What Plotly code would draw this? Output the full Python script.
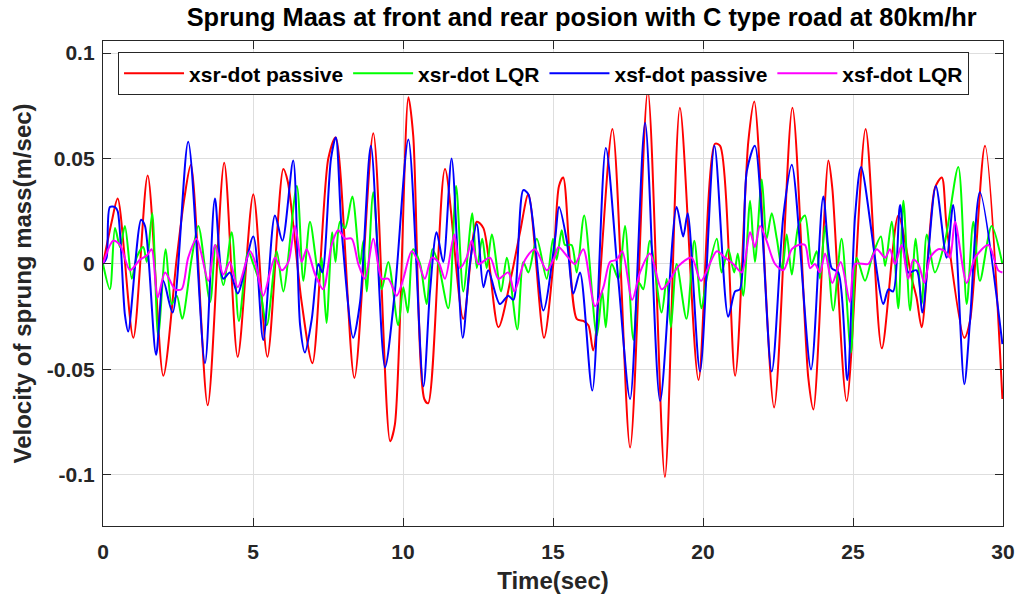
import plotly.graph_objects as go

# ---------------- data ----------------
t_red = [0, 0.29, 0.49, 1.01, 1.49, 2.01, 2.46, 2.71, 2.93, 3.49, 4.04, 4.49, 5.01, 5.48, 6.01, 6.16,
         6.62, 6.98, 7.51, 7.76, 8.38, 9.01, 9.57, 9.73, 10.18, 10.34, 10.71, 10.84, 11.40, 12.01, 12.46,
         12.68, 13.18, 13.62, 13.90, 14.18, 14.70, 15.01, 15.20, 15.34, 15.79, 16.01, 16.18, 16.34, 16.98,
         17.57, 18.16, 18.73, 19.23, 19.85, 20.40, 20.57, 21.07, 21.51, 21.71, 22.37, 22.98, 23.51, 23.68,
         24.18, 24.31, 24.79, 25.42, 25.96, 26.51, 26.96, 27.12, 27.29, 27.73, 27.96, 28.12, 28.71, 28.90,
         29.40, 29.98]
v_red = [0, 0.020, 0.031, -0.035, 0.042, -0.053, 0.003, 0.031, 0.047, -0.067, 0.048, -0.044, 0.033, -0.044,
         0.045, 0.039, -0.018, -0.047, 0.050, 0.060, -0.054, 0.062, -0.084, -0.076, 0.079, 0.061, -0.064,
         -0.066, 0.045, -0.026, 0.020, 0.017, -0.030, -0.005, 0.015, 0.033, -0.035, 0.000, 0.037, 0.041,
         -0.026, -0.027, -0.029, -0.041, 0.064, -0.087, 0.082, -0.101, 0.074, -0.055, 0.057, 0.056, -0.053,
         0.058, 0.077, -0.068, 0.074, -0.054, -0.069, 0.049, 0.036, -0.065, 0.064, -0.040, 0.023, -0.007,
         -0.016, -0.030, 0.036, 0.041, 0.018, -0.035, -0.027, 0.056, -0.064]

t_green = [0, 0.23, 0.40, 0.57, 0.73, 0.96, 1.12, 1.34, 1.46, 1.64, 1.84, 2.09, 2.29, 2.46, 2.64, 2.96,
           3.18, 3.57, 3.76, 4.01, 4.29, 4.53, 4.84, 5.01, 5.18, 5.46, 5.79, 6.01, 6.46, 6.68, 6.90, 7.20,
           7.29, 7.45, 7.64, 7.75, 7.90, 8.07, 8.31, 8.57, 8.68, 8.79, 9.01, 9.29, 9.51, 9.84, 10.01, 10.16,
           10.34, 10.57, 10.79, 10.98, 11.18, 11.51, 11.77, 12.01, 12.31, 12.46, 12.64, 12.79, 12.96, 13.27,
           13.46, 13.81, 14.01, 14.18, 14.46, 14.79, 15.00, 15.12, 15.29, 15.40, 15.62, 15.79, 16.04, 16.46,
           16.64, 16.76, 16.96, 17.18, 17.40, 17.68, 17.87, 18.01, 18.23, 18.62, 18.79, 18.93, 19.12, 19.45,
           19.71, 19.95, 20.12, 20.46, 20.62, 20.84, 21.04, 21.16, 21.34, 21.57, 21.73, 21.96, 22.12, 22.29,
           22.46, 22.64, 22.79, 22.96, 23.18, 23.40, 23.62, 23.79, 23.90, 24.07, 24.34, 24.62, 24.93, 25.12,
           25.40, 25.65, 25.93, 26.07, 26.29, 26.51, 26.68, 26.90, 27.09, 27.29, 27.46, 27.73, 28.07, 28.51,
           28.79, 29.01, 29.23, 29.62, 29.98]
v_green = [0, -0.012, 0.017, 0.008, 0.018, -0.007, 0.003, 0.008, 0.001, 0.024, -0.034, 0.007, -0.019,
           -0.015, -0.026, 0.003, 0.018, -0.018, 0.009, -0.010, 0.015, -0.027, 0.006, 0.000, -0.007, -0.029,
           0.006, -0.013, 0.037, -0.008, 0.020, -0.007, 0.003, -0.028, 0.015, 0.001, 0.020, 0.017, 0.032,
           0.000, 0.011, -0.013, 0.034, -0.012, 0.001, -0.029, -0.011, -0.023, 0.007, 0.000, -0.019, 0.007,
           0.000, -0.021, 0.037, -0.013, 0.024, -0.002, 0.012, -0.002, 0.014, -0.013, 0.003, -0.031, 0.001,
           -0.004, 0.012, -0.007, 0.012, 0.002, 0.016, 0.009, 0.009, -0.004, 0.023, -0.034, -0.013, -0.030,
           0.000, -0.007, 0.018, -0.036, -0.009, -0.012, 0.011, -0.023, -0.007, -0.030, 0.000, -0.026, 0.011,
           -0.021, -0.007, 0.012, -0.004, 0.007, -0.004, 0.005, -0.015, 0.030, 0.001, 0.040, 0.012, 0.024,
           0.012, -0.003, 0.014, -0.005, 0.018, 0.023, 0.000, 0.006, -0.007, 0.018, -0.022, 0.012, -0.042,
           0.003, -0.008, 0.004, 0.013, -0.001, 0.020, -0.021, 0.030, -0.022, 0.012, -0.019, 0.014, -0.004,
           0.011, 0.046, -0.019, 0.020, -0.008, 0.018, 0.000]

t_blue = [0, 0.12, 0.23, 0.40, 0.49, 0.73, 0.84, 1.27, 1.40, 1.77, 2.01, 2.32, 2.84, 3.40, 3.73, 4.01,
          4.23, 4.49, 5.01, 5.34, 5.73, 5.98, 6.34, 6.57, 6.73, 6.96, 7.18, 7.31, 7.60, 7.76, 7.96, 8.34,
          8.57, 8.93, 9.40, 9.73, 10.18, 10.68, 10.90, 11.12, 11.34, 11.62, 11.99, 12.23, 12.46, 12.68,
          12.84, 13.23, 13.51, 13.68, 14.01, 14.18, 14.68, 15.07, 15.20, 15.46, 15.68, 15.90, 16.31, 16.76,
          17.18, 17.57, 18.07, 18.57, 19.12, 19.34, 19.49, 19.90, 20.38, 20.84, 21.07, 21.23, 21.46, 21.73,
          22.29, 22.68, 22.96, 23.60, 24.01, 24.29, 24.51, 24.81, 25.07, 25.27, 26.01, 26.18, 26.34, 26.57,
          26.84, 27.12, 27.31, 27.76, 28.12, 28.34, 28.71, 28.90, 29.23, 29.98]
v_blue = [0, 0.003, 0.027, 0.027, 0.025, -0.024, -0.032, 0.021, 0.018, -0.043, -0.008, -0.023, 0.058,
          -0.047, 0.031, -0.007, -0.004, -0.014, 0.013, -0.036, 0.023, 0.011, 0.049, -0.029, -0.042, -0.026,
          0.000, -0.004, 0.050, 0.060, 0.015, -0.035, -0.018, 0.056, -0.049, -0.013, 0.059, -0.058, -0.013,
          0.015, 0.001, 0.050, -0.035, 0.000, 0.019, -0.011, -0.003, -0.019, -0.015, -0.017, 0.035, 0.033,
          -0.022, 0.012, 0.027, 0.011, -0.014, -0.004, -0.060, 0.055, -0.008, -0.064, 0.067, -0.065, 0.027,
          0.013, 0.024, -0.051, 0.056, -0.025, -0.013, -0.012, 0.044, 0.056, -0.051, 0.023, 0.047, -0.050,
          0.032, -0.002, -0.004, -0.055, 0.023, 0.046, -0.019, -0.012, -0.013, 0.028, -0.004, -0.003, -0.023,
          0.037, 0.003, 0.028, -0.057, -0.027, 0.034, -0.038]

t_mag = [0, 0.34, 0.57, 0.90, 1.23, 1.46, 1.62, 1.82, 2.07, 2.40, 2.62, 2.84, 3.12, 3.51, 3.73, 4.01,
         4.23, 4.49, 4.90, 5.07, 5.34, 5.73, 5.96, 6.18, 6.40, 6.62, 6.79, 7.07, 7.34, 7.62, 7.84, 8.07,
         8.29, 8.51, 8.73, 9.01, 9.29, 9.51, 9.79, 10.01, 10.29, 10.51, 10.73, 10.96, 11.18, 11.40, 11.71,
         11.90, 12.12, 12.29, 12.51, 12.90, 13.18, 13.51, 13.71, 14.07, 14.40, 14.79, 15.07, 15.18, 15.51,
         15.73, 16.01, 16.40, 16.68, 16.90, 17.12, 17.31, 17.64, 17.90, 18.23, 18.62, 18.84, 19.18, 19.62,
         19.93, 20.46, 20.73, 21.01, 21.29, 21.57, 21.73, 21.90, 22.12, 22.40, 22.68, 22.96, 23.18, 23.40,
         23.57, 23.73, 23.90, 24.07, 24.31, 24.59, 24.90, 25.07, 25.51, 25.79, 26.07, 26.23, 26.40, 26.62,
         26.84, 27.01, 27.18, 27.38, 27.57, 27.84, 28.07, 28.23, 28.40, 28.79, 29.07, 29.51, 29.84, 29.98]
v_mag = [0, 0.011, 0.009, -0.003, 0.002, 0.004, 0.007, -0.016, -0.004, -0.012, -0.012, 0.003, 0.012,
         -0.008, 0.009, -0.005, 0.001, -0.011, 0.006, 0.001, -0.015, 0.003, -0.003, 0.001, 0.018, 0.001,
         0.007, -0.005, -0.012, 0.009, 0.016, 0.012, 0.012, 0.000, -0.007, 0.012, -0.007, -0.007, -0.015,
         -0.007, 0.006, 0.001, -0.007, 0.003, 0.001, -0.007, 0.014, -0.002, 0.003, 0.011, 0.000, 0.003,
         -0.007, -0.004, -0.013, 0.002, 0.007, -0.003, 0.004, 0.008, 0.003, 0.000, 0.007, -0.020, -0.011,
         0.001, 0.002, 0.006, -0.017, -0.004, 0.005, -0.012, -0.009, -0.001, 0.003, -0.008, 0.006, 0.003,
         0.000, -0.004, 0.015, 0.008, 0.018, 0.011, 0.000, -0.003, 0.007, 0.009, 0.009, -0.002, 0.000,
         -0.004, 0.005, -0.009, 0.001, -0.018, 0.000, 0.000, 0.007, 0.003, 0.007, 0.000, 0.009, -0.007,
         0.002, 0.000, -0.009, 0.003, 0.007, 0.006, 0.003, 0.020, -0.009, 0.003, 0.009, -0.003, -0.004]

x_ticks = [0, 5, 10, 15, 20, 25, 30]
y_ticks = [-0.1, -0.05, 0, 0.05, 0.1]
y_tick_text = ["-0.1", "-0.05", "0", "0.05", "0.1"]

series = [
    ("xsr-dot passive", t_red, v_red, "#ff0000"),
    ("xsr-dot LQR", t_green, v_green, "#00ff00"),
    ("xsf-dot passive", t_blue, v_blue, "#0000ff"),
    ("xsf-dot LQR", t_mag, v_mag, "#ff00ff"),
]

FONT = "Liberation Sans, Arial, Helvetica, sans-serif"

fig = go.Figure()
for name, t, v, col in series:
    fig.add_trace(go.Scatter(
        x=t, y=v, mode="lines", name=name, hoverinfo="skip",
        line=dict(color=col, width=2, shape="spline", smoothing=0.8),
    ))

axis_common = dict(
    showline=True, linecolor="#262626", linewidth=1.3, mirror="ticks",
    ticks="inside", ticklen=8, tickwidth=1.2, tickcolor="#262626",
    showgrid=True, gridcolor="#dedede", gridwidth=1, zeroline=False,
    tickfont=dict(family=FONT, size=21, color="#262626", weight="bold"),
)

fig.update_xaxes(
    range=[0, 30], tickvals=x_ticks, ticklabelstandoff=7,
    title=dict(text="<b>Time(sec)</b>", font=dict(family=FONT, size=24, color="#262626"), standoff=9),
    **axis_common,
)
fig.update_yaxes(
    range=[-0.1242, 0.1057], tickvals=y_ticks, ticktext=y_tick_text, ticklabelstandoff=3,
    title=dict(text="<b>Velocity of sprung mass(m/sec)</b>", font=dict(family=FONT, size=24, color="#262626"), standoff=8),
    **axis_common,
)

fig.update_layout(
    width=1017, height=601,
    margin=dict(l=103, r=14, t=41, b=75, autoexpand=False),
    paper_bgcolor="white", plot_bgcolor="white",
    title=dict(text="<b>Sprung Maas at front and rear posion with C type road at 80km/hr</b>",
               font=dict(family=FONT, size=25.4, color="#000000"),
               x=0.572, xanchor="center", y=0.972, yanchor="middle"),
    legend=dict(
        orientation="h", x=0.0167, y=0.977, xanchor="left", yanchor="top",
        bgcolor="white", bordercolor="#262626", borderwidth=1,
        font=dict(family=FONT, size=21, color="#000000", weight="bold"),
        itemwidth=60, tracegroupgap=0,
    ),
    showlegend=True,
    hovermode=False,
)

fig.write_html("out.html", config={"displayModeBar": False},
               post_script="document.body.style.margin='0';")
